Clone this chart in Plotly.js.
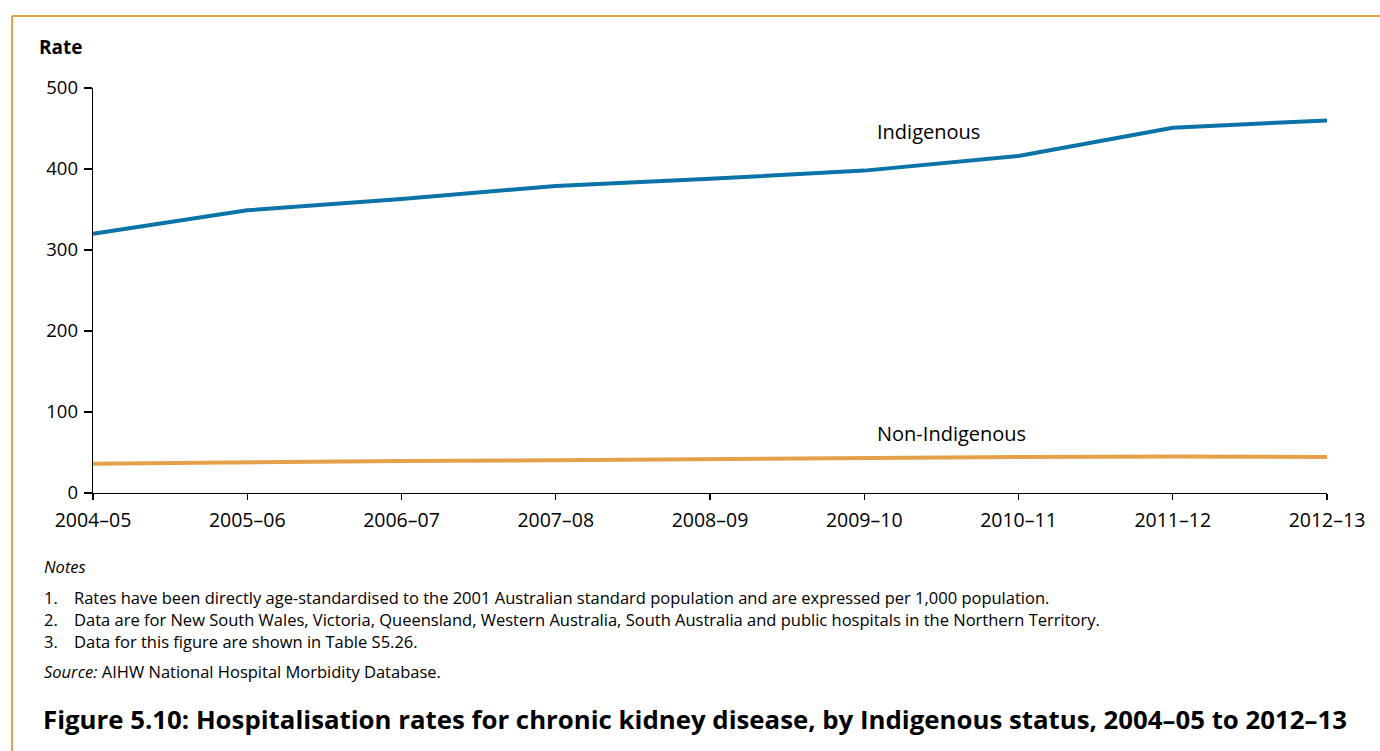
<!DOCTYPE html>
<html>
<head>
<meta charset="utf-8">
<script src="https://cdn.plot.ly/plotly-3.0.1.min.js"></script>
<style>html,body{margin:0;padding:0;background:#fff;}#chart{width:1380px;height:751px;}</style>
</head>
<body>
<div id="chart"></div>
<script>
const years = ["2004–05","2005–06","2006–07","2007–08","2008–09","2009–10","2010–11","2011–12","2012–13"];
const indigenous = [320, 349, 363, 379, 388, 398, 416, 451, 460];
const nonIndigenous = [36, 38, 39.5, 40.5, 42, 43, 44.5, 45, 44.5];
const yTicks = [0, 100, 200, 300, 400, 500];
const noteNums = ["1.", "2.", "3."];
const notes = [
  "Rates have been directly age-standardised to the 2001 Australian standard population and are expressed per 1,000 population.",
  "Data are for New South Wales, Victoria, Queensland, Western Australia, South Australia and public hospitals in the Northern Territory.",
  "Data for this figure are shown in Table S5.26."
];

const W = 1380, H = 751;
const L = 93, R = 53, T = 88, B = 258;
const pw = W - L - R, ph = H - T - B;
const px = x => (x - L) / pw;
const py = y => (H - B - y) / ph;
const FONT = "'Open Sans', sans-serif";
const ORANGE = "#E5A04A";
const BLUE = "#0A73A8";

const traces = [
  {x: years, y: indigenous, type: "scatter", mode: "lines", name: "Indigenous",
   line: {color: BLUE, width: 4}},
  {x: years, y: nonIndigenous, type: "scatter", mode: "lines", name: "Non-Indigenous",
   line: {color: ORANGE, width: 4}}
];

const ann = [];
function txt(text, x, y, opts) {
  ann.push(Object.assign({text: text, xref: "paper", yref: "paper", x: px(x), y: py(y),
    xanchor: "left", yanchor: "middle", showarrow: false,
    font: {family: FONT, size: 16.5, color: "#000"}}, opts || {}));
}
txt("<b>Rate</b>", 37, 47, {font: {family: FONT, size: 19, color: "#000"}});
txt("Indigenous", 875, 131, {font: {family: FONT, size: 20, color: "#000"}});
txt("Non-Indigenous", 875, 433, {font: {family: FONT, size: 20, color: "#000"}});
txt("<i>Notes</i>", 42, 566);
const noteY = [597, 619, 641];
for (let i = 0; i < notes.length; i++) {
  txt(noteNums[i], 42, noteY[i]);
  txt(notes[i], 72, noteY[i]);
}
txt("<i>Source:</i> AIHW National Hospital Morbidity Database.", 42, 671);
txt("<b>Figure 5.10: Hospitalisation rates for chronic kidney disease, by Indigenous status, 2004–05 to 2012–13</b>", 41, 719,
  {font: {family: FONT, size: 25.8, color: "#000"}});

const shapes = [
  {type: "line", xref: "paper", yref: "paper", x0: px(12), x1: px(1380), y0: py(16), y1: py(16),
   line: {color: ORANGE, width: 2}},
  {type: "line", xref: "paper", yref: "paper", x0: px(12), x1: px(12), y0: py(16), y1: py(751),
   line: {color: ORANGE, width: 2}}
];

const layout = {
  width: W, height: H,
  margin: {l: L, r: R, t: T, b: B, pad: 0},
  paper_bgcolor: "#fff", plot_bgcolor: "#fff",
  showlegend: false,
  font: {family: FONT, color: "#000"},
  xaxis: {
    type: "category", range: [0, years.length - 1],
    showgrid: false, zeroline: false,
    showline: true, linecolor: "#000", linewidth: 1.3,
    ticks: "outside", ticklen: 6, tickcolor: "#000", tickwidth: 1.3,
    ticklabelstandoff: 3,
    tickfont: {family: FONT, size: 19.5, color: "#000"}
  },
  yaxis: {
    range: [0, 500], tickvals: yTicks, ticktext: yTicks.map(String),
    showgrid: false, zeroline: false,
    showline: true, linecolor: "#000", linewidth: 1.3,
    ticks: "outside", ticklen: 8, tickcolor: "#000", tickwidth: 1.3,
    ticklabelstandoff: 2,
    tickfont: {family: FONT, size: 18.5, color: "#000"}
  },
  annotations: ann,
  shapes: shapes
};

Plotly.newPlot("chart", traces, layout, {displayModeBar: false, staticPlot: true});
</script>
</body>
</html>
